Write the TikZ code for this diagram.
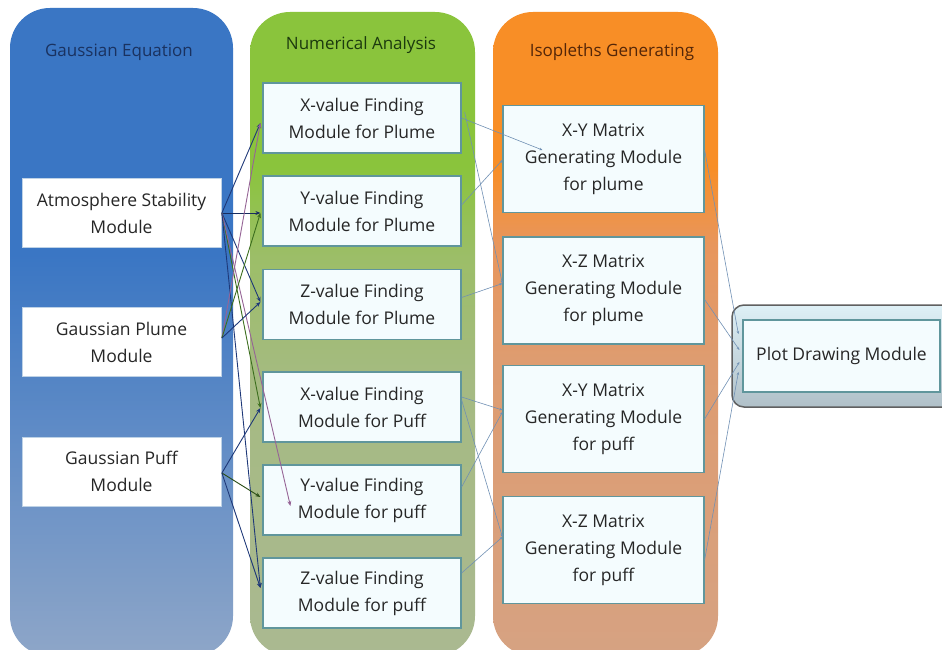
\documentclass[tikz,border=0pt]{standalone}
\usepackage{fontspec}
\setmainfont{Open Sans}
\usetikzlibrary{arrows.meta,calc}
\definecolor{bTop}{RGB}{58,118,196}
\definecolor{bBot}{RGB}{142,166,200}
\definecolor{gTop}{RGB}{138,196,60}
\definecolor{gMidA}{RGB}{156,190,104}
\definecolor{gMidB}{RGB}{165,186,130}
\definecolor{gBot}{RGB}{170,185,145}
\definecolor{oTop}{RGB}{248,142,38}
\definecolor{oMidA}{RGB}{232,150,92}
\definecolor{oMidB}{RGB}{222,156,112}
\definecolor{oBot}{RGB}{214,162,130}
\definecolor{tBlue}{RGB}{26,50,96}
\definecolor{tGreen}{RGB}{28,58,14}
\definecolor{tBrown}{RGB}{84,38,8}
\definecolor{boxText}{RGB}{38,38,38}
\definecolor{tealB}{RGB}{96,150,156}
\definecolor{paleB}{RGB}{190,210,230}
\definecolor{cyanF}{RGB}{244,252,254}
\definecolor{lnNavy}{RGB}{30,56,120}
\definecolor{lnGreen}{RGB}{60,110,30}
\definecolor{lnPurple}{RGB}{150,100,150}
\definecolor{lnSteel}{RGB}{112,144,180}
\pgfdeclareverticalshading{bluecol}{100bp}{color(0bp)=(bBot); color(25bp)=(bBot); color(56bp)=(bTop); color(100bp)=(bTop)}
\pgfdeclareverticalshading{greencol}{100bp}{color(0bp)=(gBot); color(25bp)=(gBot); color(46bp)=(gMidB); color(56bp)=(gMidA); color(63bp)=(gTop); color(100bp)=(gTop)}
\pgfdeclareverticalshading{orangecol}{100bp}{color(0bp)=(oBot); color(25bp)=(oBot); color(48bp)=(oMidB); color(57bp)=(oMidA); color(63bp)=(oTop); color(100bp)=(oTop)}
\tikzset{
  coltitle/.style={font=\fontsize{17}{20}\selectfont, inner sep=0pt},
  srcbox/.style={draw=paleB, line width=0.8pt, fill=white, minimum width=199pt, minimum height=69pt,
    align=center, text=boxText, font=\fontsize{17.5}{27}\selectfont, inner sep=0pt},
  numbox/.style={draw=tealB, line width=1.2pt, fill=cyanF, minimum width=198pt, minimum height=70pt,
    align=center, text=boxText, font=\fontsize{17.5}{27}\selectfont, inner sep=0pt},
  isobox/.style={draw=tealB, line width=1.2pt, fill=cyanF, minimum width=201pt, minimum height=107pt,
    align=center, text=boxText, font=\fontsize{17.5}{27}\selectfont, inner sep=0pt},
  arr/.style={-{Stealth[length=5pt,width=4pt]}, line width=0.9pt},
  thin arr/.style={-{Stealth[length=3pt,width=2.5pt]}, line width=0.6pt, draw=lnSteel},
}
\begin{document}
\begin{tikzpicture}[x=1pt,y=-1pt]
\useasboundingbox (0,0) rectangle (942,650);
\clip (0,0) rectangle (942,650);
\fill[white] (0,0) rectangle (942,650);

% columns
\path[rounded corners=40pt, shading=bluecol] (10,8) rectangle (233,656);
\path[rounded corners=40pt, shading=greencol] (250,12) rectangle (475,656);
\path[rounded corners=40pt, shading=orangecol] (493,12) rectangle (718,656);

% titles
\node[coltitle, text=tBlue] (t1) at (119,52) {Gaussian Equation};
\node[coltitle, text=tGreen] (t2) at (361,45) {Numerical Analysis};
\node[coltitle, text=tBrown] (t3) at (612,52) {Isopleths Generating};

% column 1
\node[srcbox] (atm) at (121.5,213) {Atmosphere Stability\\Module};
\node[srcbox] (gpl) at (121.5,342) {Gaussian Plume\\Module};
\node[srcbox] (gpf) at (121.5,471.5) {Gaussian Puff\\Module};

% column 2
\node[numbox] (xpl) at (362,118) {X-value Finding\\Module for Plume};
\node[numbox] (ypl) at (362,211) {Y-value Finding\\Module for Plume};
\node[numbox] (zpl) at (362,304.5) {Z-value Finding\\Module for Plume};
\node[numbox] (xpf) at (362,407) {X-value Finding\\Module for Puff};
\node[numbox] (ypf) at (362,500) {Y-value Finding\\Module for puff};
\node[numbox] (zpf) at (362,593) {Z-value Finding\\Module for puff};

% column 3
\node[isobox] (xypl) at (603.5,159) {X-Y Matrix\\Generating Module\\for plume};
\node[isobox] (xzpl) at (603.5,290.5) {X-Z Matrix\\Generating Module\\for plume};
\node[isobox] (xypf) at (603.5,419) {X-Y Matrix\\Generating Module\\for puff};
\node[isobox] (xzpf) at (603.5,550) {X-Z Matrix\\Generating Module\\for puff};

% plot drawing
\path[rounded corners=12pt, top color={rgb,255:red,222;green,240;blue,246}, bottom color={rgb,255:red,176;green,192;blue,200}, draw={rgb,255:red,96;green,96;blue,96}, line width=1.5pt] (732,305) rectangle (960,407);
\node[draw=tealB, line width=1.2pt, fill=cyanF, minimum width=197pt, minimum height=72pt, inner sep=0pt,
  text=boxText, font=\fontsize{17.5}{27}\selectfont] (plot) at (841.5,356) {Plot Drawing Module};

% connectors column 1 -> column 2
\coordinate (atmE) at ($(atm.east)+(0.5,0)$);
\coordinate (gplE) at ($(gpl.east)+(0.5,-4)$);
\coordinate (gpfE) at ($(gpf.east)+(0.5,1.5)$);
\draw[arr, draw=lnNavy] (atmE) -- ($(xpl.west)+(-2,5)$);
\draw[arr, draw=lnNavy!80!black] (atmE) -- ($(ypl.west)+(-2,2)$);
\draw[arr, draw=lnNavy] (atmE) -- ($(zpl.west)+(-2,-2.5)$);
\draw[arr, draw=lnGreen] (atmE) -- ($(xpf.west)+(-2,1)$);
\draw[arr, draw=lnPurple] (atmE) -- ($(ypf.west)+(28,6)$);
\draw[arr, draw=lnNavy] (atmE) -- ($(zpf.west)+(-2,-5)$);
\draw[arr, draw=lnPurple] (gplE) -- ($(xpl.west)+(-2,5)$);
\draw[arr, draw=lnGreen] (gplE) -- ($(ypl.west)+(-2,2)$);
\draw[arr, draw=lnNavy] (gplE) -- ($(zpl.west)+(-2,-2.5)$);
\draw[arr, draw=lnNavy] (gpfE) -- ($(xpf.west)+(-2,1)$);
\draw[arr, draw=lnGreen!70!black] (gpfE) -- ($(ypf.west)+(-2,-3)$);
\draw[arr, draw=lnNavy] (gpfE) -- ($(zpf.west)+(-2,-5)$);

% connectors column 2 -> column 3
\draw[thin arr] (xpl.east) -- ($(xypl.west)+(40,-9)$);
\draw[thin arr] ($(ypl.east)+(0,-6)$) -- ($(xypl.west)+(0,1)$);
\draw[thin arr] ($(xpl.east)+(3,-6)$) -- ($(xzpl.west)+(0,-7)$);
\draw[thin arr] ($(zpl.east)+(0,-7)$) -- ($(xzpl.west)+(0,-7)$);
\draw[thin arr] ($(xpf.east)+(0,-10)$) -- ($(xypf.west)+(0,-9)$);
\draw[thin arr] ($(ypf.east)+(0,-13)$) -- ($(xypf.west)+(0,-7)$);
\draw[thin arr] ($(xpf.east)+(0,-7)$) -- ($(xzpf.west)+(0,-13)$);
\draw[thin arr] ($(zpf.east)+(0,-20)$) -- ($(xzpf.west)+(0,-13)$);

% connectors column 3 -> plot
\draw[thin arr] ($(xypl.east)+(0,-9)$) -- ($(plot.west)+(-4,-22)$);
\draw[thin arr] ($(xzpl.east)+(0,9)$) -- ($(plot.west)+(-3,-6)$);
\draw[thin arr] ($(xypf.east)+(0,0)$) -- ($(plot.west)+(-3,6)$);
\draw[thin arr] ($(xzpf.east)+(0,10)$) -- ($(plot.west)+(-4,16)$);
\end{tikzpicture}
\end{document}
